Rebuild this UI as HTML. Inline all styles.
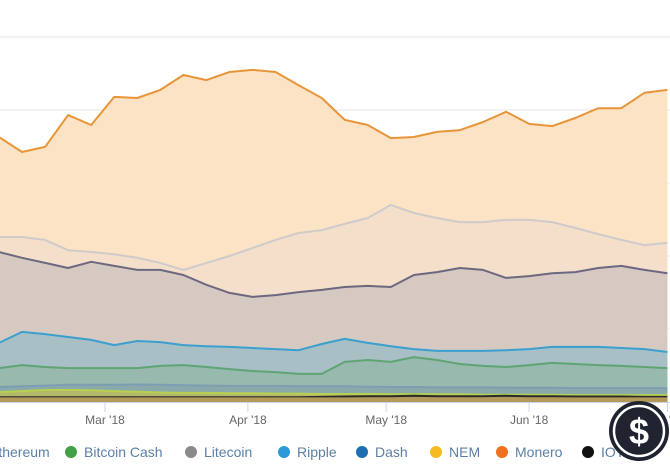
<!DOCTYPE html>
<html><head><meta charset="utf-8"><style>
body{margin:0;background:#fff;width:670px;height:470px;overflow:hidden;font-family:"Liberation Sans Narrow","Liberation Sans",sans-serif}
svg{display:block}
</style></head><body>
<svg id="chart" width="670" height="470" xmlns="http://www.w3.org/2000/svg"></svg>
<script>
// day offsets from Mar 1 '18
const days=[-23,-18,-13,-8,-3,2,7,12,17,22,27,32,37,42,47,52,57,62,67,72,77,82,87,92,97,102,107,112,117,122];
// cumulative stacked tops (percent)
const topBitcoin=[72.6,68.5,69.9,78.6,75.9,83.6,83.3,85.5,89.6,88.2,90.4,91.0,90.4,86.8,83.3,77.3,75.9,72.3,72.6,74.0,74.5,76.7,79.5,76.2,75.6,77.8,80.5,80.5,84.7,85.5];
const topEthereum=[45.2,45.2,44.4,41.6,41.1,40.5,39.5,38.1,36.2,38.1,40.0,42.2,44.4,46.3,47.1,48.8,50.4,54.0,51.8,50.4,49.3,49.3,49.9,49.9,49.3,47.7,46.0,44.4,43.0,43.6];
const topBitcoinCash=[41.1,39.5,38.1,36.7,38.4,37.3,36.2,36.2,34.8,32.1,29.9,28.8,29.3,30.1,30.7,31.5,31.8,31.5,34.8,35.6,36.7,36.2,34.0,34.5,35.3,35.6,36.7,37.3,36.2,35.3];
const topRipple=[16.2,19.2,18.6,17.8,17.0,15.6,16.7,16.4,15.6,15.3,15.1,14.8,14.5,14.2,15.9,17.3,16.2,15.3,14.5,14.0,14.0,14.0,14.2,14.5,15.1,15.1,15.1,14.8,14.5,13.7];
const topLitecoin=[9.3,10.1,9.6,9.3,9.3,9.3,9.3,9.9,10.1,9.6,9.0,8.5,8.2,7.7,7.7,11.0,11.5,11.0,12.3,11.5,10.4,9.9,9.6,10.1,10.7,10.4,10.1,9.9,9.6,9.3];
const topDash=[4.1,4.3,4.5,4.7,4.7,4.7,4.8,4.7,4.6,4.5,4.4,4.4,4.4,4.3,4.3,4.3,4.2,4.1,4.1,4.0,4.0,4.0,3.9,3.9,3.9,3.8,3.8,3.8,3.8,3.8];
const topNEM=[2.7,3.0,3.3,3.3,3.2,3.0,2.8,2.6,2.5,2.5,2.4,2.4,2.3,2.3,2.2,2.2,2.2,2.1,2.1,2.1,2.1,2.0,2.0,2.0,2.0,1.9,1.9,1.9,1.9,1.9];
const topIOTA=[1.3,1.3,1.3,1.3,1.3,1.3,1.3,1.3,1.3,1.3,1.3,1.3,1.3,1.3,1.4,1.5,1.6,1.6,1.7,1.6,1.6,1.6,1.7,1.6,1.6,1.5,1.5,1.5,1.4,1.4];
const topMonero=[1.0,1.0,1.0,1.0,1.0,1.0,1.0,1.0,1.0,1.0,1.0,1.0,1.0,1.0,1.0,1.0,1.0,1.0,1.0,1.0,1.0,1.0,1.0,1.0,1.0,1.0,1.0,1.0,1.0,1.0];
const tickDays=[0,31,61,92,122];
const tickLabels=["Mar '18","Apr '18","May '18","Jun '18","Jul '18"];
const gridVals=[20,40,60,80,100];

const NS='http://www.w3.org/2000/svg';
const svg=document.getElementById('chart');
const xS=d=>105+d*4.61;
const yS=v=>402-v*3.65;
function mk(t,a,p){const e=document.createElementNS(NS,t);for(const k in a)e.setAttribute(k,a[k]);(p||svg).appendChild(e);return e;}
gridVals.forEach(v=>{
  const l=mk('line',{x1:0,x2:670,y1:yS(v),y2:yS(v),stroke:'#e6e6e6','stroke-width':1});
  
  
});
const layers=[
 [topBitcoin,'#fde3c5','#e8953a','bitcoin'],
 [topEthereum,'#f3dfca','#cfcbcb','ethereum'],
 [topBitcoinCash,'#d6c9c2','#6c6880','bitcoin-cash'],
 [topRipple,'#a9bfc6','#3b9fcf','ripple'],
 [topLitecoin,'#97b9ae','#5ea573','litecoin'],
 [topDash,'#8aa9aa','#7d9eb2','dash'],
 [topNEM,'#b4b86a','#b8d050','nem'],
 [topIOTA,'#a89660','#2a2a2a','iota'],
 [topMonero,'#b39a58','#b39a58','monero']
];
layers.forEach(([arr,fill,stroke,name])=>{
  let d='M'+xS(days[0])+' '+yS(0);
  let ld='';
  arr.forEach((v,i)=>{d+=' L'+xS(days[i]).toFixed(1)+' '+yS(v).toFixed(1);ld+=(i?' L':'M')+xS(days[i]).toFixed(1)+' '+yS(v).toFixed(1);});
  d+=' L'+xS(days[days.length-1])+' '+yS(0)+' Z';
  const a=mk('path',{d:d,fill:fill});
  
  
  const l=mk('path',{d:ld,fill:'none',stroke:stroke,'stroke-width':2,'stroke-linejoin':'round'});
  
  
});
mk('line',{x1:0,x2:670,y1:402.5,y2:402.5,stroke:'#ccd6eb'});
tickDays.forEach((d,i)=>{
  const t=mk('line',{x1:xS(d),x2:xS(d),y1:402,y2:412,stroke:'#ccd6eb'});
  
  
  const tx=mk('text',{x:xS(d),y:424,'text-anchor':'middle','font-size':12,fill:'#666'});
  tx.textContent=tickLabels[i];
  
  
});
const legend=[['Ethereum',-24,'#434348'],['Bitcoin Cash',71,'#43a047'],['Litecoin',191,'#8a8a8a'],['Ripple',284,'#2b9ad8'],['Dash',362,'#1f6fb0'],['NEM',436,'#f5b921'],['Monero',502,'#f07020'],['IOTA',588,'#111']];
legend.forEach(([n,x,c])=>{
  const g=mk('g',{});
  
  
  if(x>0)mk('circle',{cx:x,cy:452,r:6,fill:c},g);
  const t=mk('text',{x:x+13,y:457,'font-size':14,fill:'#5b7fa6'},g);
  t.textContent=n;
});
const logo=mk('g',{});


mk('circle',{cx:639,cy:431,r:30,fill:'#1f2430'},logo);
mk('circle',{cx:639,cy:431,r:25,fill:'none',stroke:'#fff','stroke-width':2.5},logo);
const lt=mk('text',{x:639,y:444,'text-anchor':'middle','font-size':36,'font-weight':'bold',fill:'#fff','font-family':'Liberation Sans,sans-serif'},logo);
lt.textContent='$';
</script>
</body></html>
